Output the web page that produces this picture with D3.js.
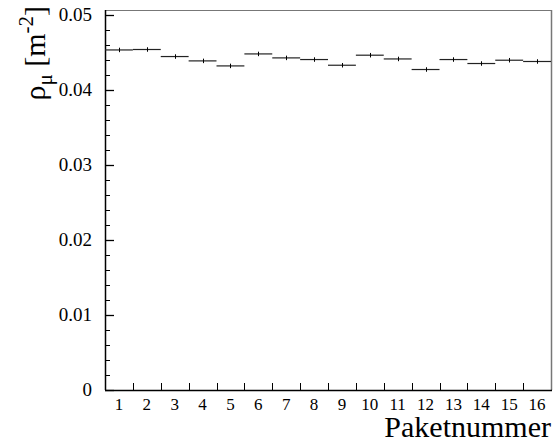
<!DOCTYPE html>
<html>
<head>
<meta charset="utf-8">
<script src="https://cdn.jsdelivr.net/npm/d3@7"></script>
</head>
<body style="margin:0">
<div id="chart"></div>
<script>
// bin numbers (Paketnummer)
let pakete = [1, 2, 3, 4, 5, 6, 7, 8, 9, 10, 11, 12, 13, 14, 15, 16];
// muon density per packet [m^-2]
let rho = [0.04537, 0.04543, 0.04449, 0.04391, 0.04324, 0.04484, 0.04431, 0.04409,
           0.04333, 0.04467, 0.04417, 0.04276, 0.04409, 0.04356, 0.04400, 0.04383];
// statistical errors
let rhoErr = [0.0003, 0.0003, 0.0003, 0.0003, 0.0003, 0.0003, 0.0003, 0.0003,
              0.0003, 0.0003, 0.0003, 0.0003, 0.0003, 0.0003, 0.0003, 0.0003];
let yTicks = [0, 0.01, 0.02, 0.03, 0.04, 0.05];

let frame = {left: 105, right: 551, top: 10, bottom: 390};
let font = "'Liberation Serif', 'Times New Roman', serif";

let svg = d3.select("#chart").append("svg")
  .attr("width", 555).attr("height", 445);

// x scale covers bin edges 0.5 .. 16.5
let x = d3.scaleLinear()
  .domain([0.5, 16.5])
  .range([frame.left, frame.right]);

let y = d3.scaleLinear()
  .domain([0, 0.0507])
  .range([frame.bottom, frame.top]);

// frame (top and right in grey)
svg.append("line")
  .attr("x1", frame.left).attr("x2", frame.right)
  .attr("y1", frame.top + 0.5).attr("y2", frame.top + 0.5)
  .attr("stroke", "#777").attr("stroke-width", 1);
svg.append("line")
  .attr("x1", frame.right + 0.5).attr("x2", frame.right + 0.5)
  .attr("y1", frame.top).attr("y2", frame.bottom)
  .attr("stroke", "#777").attr("stroke-width", 1.5);

// Y axis: ticks inside, minor every 0.002
svg.append("line")
  .attr("x1", frame.left + 0.5).attr("x2", frame.left + 0.5)
  .attr("y1", frame.top).attr("y2", frame.bottom)
  .attr("stroke", "#000").attr("stroke-width", 1.5);
let minor = d3.range(0, 0.0507, 0.002);
svg.selectAll(".minor").data(minor).join("line")
  .attr("class", "minor")
  .attr("x1", frame.left).attr("x2", frame.left + 5)
  .attr("y1", d => Math.round(y(d)) + 0.5).attr("y2", d => Math.round(y(d)) + 0.5)
  .attr("stroke", "#000");
svg.selectAll(".major").data(yTicks).join("line")
  .attr("class", "major")
  .attr("x1", frame.left).attr("x2", frame.left + 9)
  .attr("y1", d => Math.round(y(d)) + 0.5).attr("y2", d => Math.round(y(d)) + 0.5)
  .attr("stroke", "#000").attr("stroke-width", 1.3);
svg.selectAll(".ylab").data(yTicks).join("text")
  .attr("class", "ylab")
  .attr("x", frame.left - 13)
  .attr("y", d => y(d) + 6)
  .attr("text-anchor", "end")
  .style("font-family", font)
  .style("font-size", "19px")
  .text(d => d === 0 ? "0" : d3.format(".2f")(d));

// X axis: ticks at bin edges, labels at bin centers
svg.append("line")
  .attr("x1", frame.left).attr("x2", frame.right + 1)
  .attr("y1", frame.bottom + 0.5).attr("y2", frame.bottom + 0.5)
  .attr("stroke", "#000").attr("stroke-width", 1.5);
svg.selectAll(".xtick").data(pakete.slice(1)).join("line")
  .attr("class", "xtick")
  .attr("x1", d => Math.round(x(d - 0.5)) + 0.5).attr("x2", d => Math.round(x(d - 0.5)) + 0.5)
  .attr("y1", frame.bottom).attr("y2", frame.bottom - 7)
  .attr("stroke", "#000");
svg.selectAll(".xlab").data(pakete).join("text")
  .attr("class", "xlab")
  .attr("x", d => x(d))
  .attr("y", frame.bottom + 20)
  .attr("text-anchor", "middle")
  .style("font-family", font)
  .style("font-size", "17px")
  .text(d => d);

// axis titles
svg.append("text")
  .attr("x", frame.right)
  .attr("y", 437)
  .attr("text-anchor", "end")
  .style("font-family", font)
  .style("font-size", "30px")
  .text("Paketnummer");

let yTitle = svg.append("text")
  .attr("transform", "translate(45,6) rotate(-90)")
  .attr("text-anchor", "end")
  .style("font-family", font)
  .style("font-size", "30px");
yTitle.append("tspan").text("\u03C1");
yTitle.append("tspan").attr("dy", 7).style("font-size", "21px").text("\u03BC");
yTitle.append("tspan").attr("dy", -7).text("  [m");
yTitle.append("tspan").attr("dy", -12).style("font-size", "21px").text("-2");
yTitle.append("tspan").attr("dy", 12).text("]");

// histogram with error bars
svg.selectAll(".bin").data(pakete).join("line")
  .attr("class", "bin")
  .attr("x1", d => x(d - 0.5)).attr("x2", d => x(d + 0.5))
  .attr("y1", (d, i) => y(rho[i])).attr("y2", (d, i) => y(rho[i]))
  .attr("stroke", "#222").attr("stroke-width", 1.2);
svg.selectAll(".err").data(pakete).join("line")
  .attr("class", "err")
  .attr("x1", d => Math.round(x(d)) + 0.5).attr("x2", d => Math.round(x(d)) + 0.5)
  .attr("y1", (d, i) => y(rho[i] - rhoErr[i])).attr("y2", (d, i) => y(rho[i] + rhoErr[i]))
  .attr("stroke", "#000").attr("stroke-width", 1);
</script>
</body>
</html>
